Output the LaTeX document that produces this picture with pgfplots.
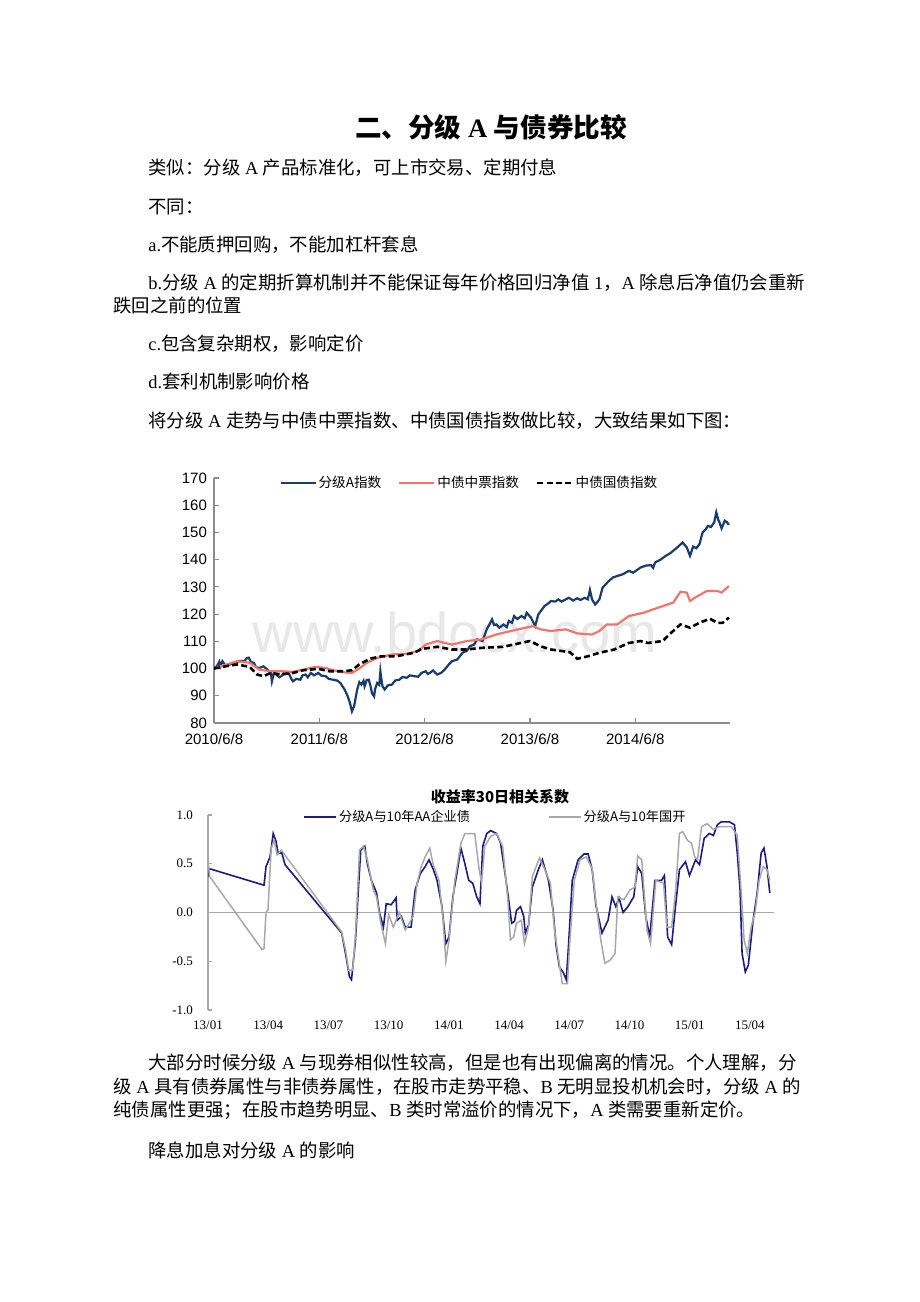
\documentclass[border=0pt]{standalone}
\usepackage{fontspec}
\setmainfont{Liberation Serif}
\setsansfont{Liberation Sans}
\newfontfamily\cjk{Noto Sans CJK SC}
\usepackage{pgfplots}
\pgfplotsset{compat=1.18}
\definecolor{navyA}{RGB}{24,60,108}
\definecolor{salmon}{RGB}{240,118,108}
\definecolor{navyB}{RGB}{28,28,128}
\definecolor{grayB}{RGB}{168,168,168}
\definecolor{axgray}{RGB}{140,140,140}
\newcommand\zh[1]{{\cjk #1}}
\newcommand\body{\fontsize{9.2}{11}\selectfont}

\begin{document}
\begin{tikzpicture}
\path[fill=white] (0,0) rectangle (460pt,651pt);

% page text, coordinates in pixels from the top left
\begin{scope}[x=0.5pt,y=-0.5pt,shift={(0,651pt)},
  every node/.style={anchor=west,inner sep=0pt,font=\body}]
\node[anchor=center,font=\fontsize{13.3}{16}\selectfont\bfseries] at (491,127)
  {\zh{二、分级} A \zh{与债券比较}};
\node at (148,168) {\zh{类似：分级} A \zh{产品标准化，可上市交易、定期付息}};
\node at (148,207) {\zh{不同：}};
\node at (148,245) {a.\zh{不能质押回购，不能加杠杆套息}};
\node at (148,283) {b.\zh{分级} A \zh{的定期折算机制并不能保证每年价格回归净值} 1\zh{，}A \zh{除息后净值仍会重新}};
\node at (113,305) {\zh{跌回之前的位置}};
\node at (148,344) {c.\zh{包含复杂期权，影响定价}};
\node at (148,382) {d.\zh{套利机制影响价格}};
\node at (148,421) {\zh{将分级} A \zh{走势与中债中票指数、中债国债指数做比较，大致结果如下图：}};
\node[anchor=center,text=black!9,font=\sffamily\fontsize{28}{30}\selectfont] at (455,632) {www.bdocx.com};
\node[anchor=center,font=\cjk\bfseries\fontsize{7.5}{9}\selectfont] at (500,797) {收益率30日相关系数};
\node at (148,1063) {\zh{大部分时候分级} A \zh{与现券相似性较高，但是也有出现偏离的情况。个人理解，分}};
\node at (113,1087) {\zh{级} A \zh{具有债券属性与非债券属性，在股市走势平稳、}B \zh{无明显投机机会时，分级} A \zh{的}};
\node at (113,1110) {\zh{纯债属性更强；在股市趋势明显、}B \zh{类时常溢价的情况下，}A \zh{类需要重新定价。}};
\node at (148,1150) {\zh{降息加息对分级} A \zh{的影响}};
\end{scope}

% chart 1: index levels, x in years since 2010/6/8
\begin{axis}[
  at={(107pt,289.5pt)}, anchor=south west,
  scale only axis, width=258pt, height=122.5pt,
  xmin=0, xmax=4.9, ymin=80, ymax=170,
  axis x line*=bottom, axis y line*=left,
  axis line style={axgray, line width=0.8pt, -},
  tick style={axgray, line width=0.6pt},
  tick align=inside, major tick length=2.5pt,
  xtick={0,1,2,3,4},
  xticklabels={2010/6/8,2011/6/8,2012/6/8,2013/6/8,2014/6/8},
  ytick={80,90,...,170},
  ticklabel style={font=\sffamily\fontsize{7.5}{9}\selectfont},
  xticklabel style={yshift=-2pt},
  /pgf/number format/assume math mode=true,
  legend columns=-1,
  legend style={at={(0.126,0.98)}, anchor=west, draw=none, fill=none,
    inner sep=0pt, nodes={inner sep=1pt},
    font=\cjk\fontsize{6.8}{8}\selectfont,
    /tikz/every even column/.append style={column sep=7.5pt}},
  legend image code/.code={\draw[#1] (0pt,0pt) -- (17.5pt,0pt);},
]
\addplot[navyA, line width=1.1pt] coordinates {
(0,100) (0.03,101) (0.05,102.5) (0.06,100.8) (0.08,102.7) (0.11,101) (0.15,101.5)
(0.20,102.2) (0.25,102.8) (0.29,102.7) (0.31,103.8) (0.33,104) (0.35,102.5) (0.38,102)
(0.40,100.5) (0.43,100.2) (0.47,100.8) (0.50,99.9) (0.54,98.4) (0.55,95.3) (0.57,98.5)
(0.59,97.8) (0.62,96.8) (0.64,97.2) (0.67,98.8) (0.71,98.4) (0.73,96.5) (0.75,95.3)
(0.78,96.2) (0.82,95.9) (0.84,97.5) (0.87,97.8) (0.89,96.8) (0.92,98.4) (0.95,97.5)
(0.99,98.4) (1.02,97.4) (1.06,97.2) (1.09,96.2) (1.13,95.9) (1.17,95.6) (1.20,94.7)
(1.24,92.3) (1.27,89.8) (1.29,87.5) (1.31,84.3) (1.33,86.1) (1.36,92.3) (1.38,95)
(1.40,94.1) (1.42,95.5) (1.43,93.5) (1.45,95.8) (1.47,95.9) (1.49,93) (1.50,91)
(1.52,89.8) (1.53,92.5) (1.55,94.7) (1.57,94) (1.58,99) (1.59,96) (1.60,93.5)
(1.62,92.3) (1.65,93.8) (1.69,94.1) (1.72,95.6) (1.76,95.9) (1.79,96.9) (1.83,96.6)
(1.86,97.5) (1.90,97.2) (1.94,97.0) (1.97,98.4) (2.01,99) (2.03,98) (2.05,98.4)
(2.08,99.3) (2.12,97.8) (2.16,98.5) (2.19,99.6) (2.23,101.5) (2.26,102.7) (2.31,103.3)
(2.36,105.8) (2.40,106.5) (2.43,108.2) (2.47,108.8) (2.50,110.7) (2.55,110.1) (2.59,114.4)
(2.62,116.5) (2.64,118.1) (2.66,116) (2.68,116.2) (2.71,115) (2.75,116.2) (2.78,115.2)
(2.80,117.5) (2.83,116.8) (2.85,119.3) (2.88,118.2) (2.92,119.3) (2.95,118.5) (2.97,120.5)
(3.01,118.7) (3.05,115.6) (3.08,119.9) (3.11,121.5) (3.14,123) (3.17,123.8) (3.20,124.8)
(3.24,124.6) (3.27,125.4) (3.30,124.6) (3.34,125.4) (3.37,126) (3.41,125) (3.45,125.8)
(3.48,125.2) (3.52,126) (3.55,125.4) (3.57,128.9) (3.59,125.4) (3.62,123.5) (3.66,125.4)
(3.69,129.7) (3.75,132.2) (3.79,133.5) (3.83,134) (3.88,134.6) (3.94,135.9) (3.98,135.2)
(4.05,137.1) (4.10,137.8) (4.15,138) (4.17,137) (4.19,139) (4.24,140) (4.29,141.4)
(4.33,142.3) (4.40,144.5) (4.45,146.3) (4.49,144.5) (4.52,141.4) (4.55,144.8) (4.58,144.2)
(4.61,145.7) (4.64,150) (4.67,151.2) (4.69,152.4) (4.72,152) (4.75,153.7) (4.77,157.4)
(4.79,154.5) (4.80,153.7) (4.82,151.5) (4.83,152.4) (4.85,154.3) (4.87,153.8) (4.89,152.8)};
\addplot[salmon, line width=1.1pt] coordinates {
(0,100) (0.12,101.5) (0.22,102.7) (0.34,102.1) (0.43,99.6) (0.54,99) (0.64,99)
(0.75,98.8) (0.85,99.6) (0.96,100.6) (1.06,100.2) (1.13,99.4) (1.24,98.6) (1.31,98.4)
(1.38,100) (1.45,102.1) (1.55,103.9) (1.69,105.2) (1.83,105.4) (1.94,106.4) (2.01,108.8)
(2.12,110.1) (2.26,108.8) (2.40,110.1) (2.54,110.7) (2.68,112.5) (2.82,113.8) (2.96,115)
(3.03,115.6) (3.10,114.4) (3.20,113.8) (3.34,114.4) (3.45,112.9) (3.59,112.5) (3.66,113.8)
(3.73,116.2) (3.83,116.2) (3.94,119.3) (4.08,120.5) (4.22,122.4) (4.36,124.2) (4.43,128.2)
(4.49,127.9) (4.52,124.8) (4.57,126.1) (4.68,128.5) (4.78,128.5) (4.82,127.9) (4.89,130.3)};
\addplot[black, line width=1.3pt, dash pattern=on 3pt off 1.6pt] coordinates {
(0,100) (0.12,100.9) (0.22,101.5) (0.34,100.6) (0.41,97.8) (0.47,97.2) (0.54,98.4)
(0.64,97.8) (0.75,98.4) (0.85,99.4) (0.99,99.9) (1.10,99) (1.24,99) (1.31,99.4)
(1.38,101.5) (1.48,103.6) (1.59,104.5) (1.73,104.5) (1.90,105.8) (1.97,107.2) (2.12,108)
(2.26,107) (2.40,107) (2.54,107.6) (2.75,108) (2.89,109.2) (3.00,110.1) (3.10,108.2)
(3.20,107) (3.38,106) (3.45,103.6) (3.55,104.5) (3.66,105.8) (3.80,107) (3.94,109.4)
(4.05,110.1) (4.12,109.4) (4.26,110.1) (4.36,113.8) (4.43,116.2) (4.52,115) (4.61,116.8)
(4.71,118.3) (4.78,116.8) (4.83,116.8) (4.89,118.7)};
\legend{分级A指数,中债中票指数,中债国债指数}
\end{axis}

% chart 2: 30-day correlation, x in months since 2013/01
\begin{axis}[
  at={(104pt,146pt)}, anchor=south west,
  scale only axis, width=283pt, height=97.5pt,
  xmin=0, xmax=28.2, ymin=-1, ymax=1,
  axis x line*=bottom, axis y line*=left,
  axis line style={-},
  x axis line style={draw=none},
  y axis line style={grayB, line width=0.7pt},
  xtick={0,3,...,27},
  xticklabels={13/01,13/04,13/07,13/10,14/01,14/04,14/07,14/10,15/01,15/04},
  xtick style={draw=none},
  ytick={-1,-0.5,0,0.5,1}, yticklabels={-1.0,-0.5,0.0,0.5,1.0},
  ytick style={grayB, line width=0.6pt}, tick align=inside, major tick length=2pt,
  ticklabel style={font=\fontsize{6.5}{8}\selectfont},
  yticklabel style={xshift=-4pt},
  xticklabel style={yshift=-2pt},
  extra y ticks={0}, extra y tick labels={},
  extra y tick style={grid=major, major grid style={grayB, line width=0.6pt}, tick style={draw=none}},
  legend columns=-1,
  legend style={at={(0.168,0.99)}, anchor=west, draw=none, fill=none,
    inner sep=0pt, nodes={inner sep=1pt},
    font=\cjk\fontsize{6.6}{8}\selectfont,
    /tikz/every even column/.append style={column sep=38pt}},
  legend image code/.code={\draw[#1] (0pt,0pt) -- (16pt,0pt);},
]
\addplot[navyB, line width=0.8pt] coordinates {
(0,0.37) (0.06,0.45) (2.79,0.28) (2.89,0.47) (3.09,0.57) (3.25,0.81) (3.39,0.73)
(3.49,0.61) (3.68,0.61) (3.84,0.49) (6.66,-0.21) (6.85,-0.42) (7.05,-0.66) (7.15,-0.69)
(7.35,-0.28) (7.49,0.23) (7.61,0.64) (7.81,0.68) (7.94,0.50) (8.14,0.33) (8.40,0.20)
(8.54,0.0) (8.74,-0.15) (8.88,0.09) (9.13,0.08) (9.37,0.15) (9.43,-0.08) (9.63,-0.04)
(9.83,-0.15) (10.12,-0.15) (10.32,0.23) (10.58,0.40) (10.82,0.47) (11.01,0.54) (11.21,0.45)
(11.41,0.33) (11.65,0.07) (11.85,-0.32) (12.01,-0.25) (12.20,0.16) (12.40,0.40) (12.60,0.66)
(12.80,0.50) (12.99,0.33) (13.19,0.30) (13.39,0.16) (13.55,0.09) (13.69,0.68) (13.89,0.81)
(14.08,0.84) (14.38,0.81) (14.58,0.71) (14.82,0.37) (14.98,0.13) (15.13,-0.11) (15.27,-0.09)
(15.37,0.02) (15.57,0.06) (15.73,-0.04) (15.81,-0.21) (15.97,-0.13) (16.16,0.26) (16.46,0.44)
(16.66,0.54) (16.96,0.33) (17.19,0.03) (17.35,-0.35) (17.51,-0.56) (17.71,-0.62) (17.85,-0.69)
(17.95,-0.38) (18.15,0.33) (18.44,0.54) (18.74,0.60) (18.94,0.60) (19.14,0.44) (19.33,0.07)
(19.63,-0.21) (19.93,-0.08) (20.13,0.16) (20.32,0.06) (20.48,0.15) (20.68,0.0) (20.92,0.06)
(21.21,0.16) (21.41,0.47) (21.61,0.40) (21.81,-0.04) (22.01,-0.25) (22.27,0.33) (22.60,0.33)
(22.74,0.38) (22.90,-0.25) (23.10,-0.33) (23.26,0.0) (23.49,0.44) (23.79,0.52) (23.99,0.38)
(24.29,0.54) (24.49,0.49) (24.72,0.76) (24.98,0.81) (25.18,0.79) (25.38,0.90) (25.57,0.93)
(25.97,0.93) (26.23,0.90) (26.37,0.61) (26.51,0.23) (26.61,-0.42) (26.77,-0.61) (26.92,-0.54)
(27.16,-0.08) (27.36,0.20) (27.56,0.61) (27.70,0.66) (27.85,0.47) (27.99,0.20)};
\addplot[grayB, line width=0.75pt] coordinates {
(0,0.54) (0.08,0.37) (2.69,-0.38) (2.79,-0.37) (2.89,0.0) (2.99,0.03) (3.15,0.66)
(3.29,0.74) (3.45,0.59) (3.65,0.64) (6.66,-0.20) (6.85,-0.38) (7.01,-0.59) (7.21,-0.59)
(7.35,-0.21) (7.55,0.64) (7.75,0.68) (7.94,0.54) (8.24,0.23) (8.40,0.16) (8.60,-0.10)
(8.84,-0.32) (9.00,-0.02) (9.23,-0.15) (9.53,0.0) (9.83,-0.18) (10.22,-0.04) (10.42,0.30)
(10.62,0.47) (10.82,0.57) (11.05,0.66) (11.21,0.50) (11.51,0.33) (11.71,-0.07) (11.85,-0.50)
(12.01,-0.28) (12.30,0.33) (12.60,0.71) (12.80,0.81) (13.29,0.81) (13.49,0.47) (13.63,0.30)
(13.79,0.68) (14.08,0.78) (14.38,0.81) (14.68,0.68) (14.94,0.13) (15.07,-0.28) (15.23,-0.25)
(15.37,-0.11) (15.61,-0.08) (15.77,-0.32) (15.97,-0.15) (16.16,0.37) (16.52,0.56) (16.72,0.47)
(17.06,0.30) (17.25,-0.15) (17.45,-0.45) (17.65,-0.73) (17.91,-0.73) (18.01,-0.35) (18.25,0.33)
(18.54,0.54) (18.84,0.57) (19.14,0.45) (19.33,0.10) (19.57,-0.28) (19.77,-0.52) (20.03,-0.49)
(20.28,-0.42) (20.42,0.16) (20.72,0.13) (21.02,0.23) (21.27,0.26) (21.41,0.58) (21.61,0.54)
(21.87,-0.18) (22.05,-0.32) (22.31,0.33) (22.70,0.30) (22.86,-0.15) (23.10,-0.15) (23.30,0.23)
(23.49,0.81) (23.65,0.83) (23.89,0.74) (24.09,0.71) (24.25,0.57) (24.39,0.54) (24.59,0.88)
(24.88,0.91) (25.18,0.85) (25.48,0.88) (26.07,0.88) (26.37,0.79) (26.57,0.20) (26.71,-0.28)
(26.87,-0.42) (27.06,-0.15) (27.26,0.0) (27.46,0.33) (27.66,0.47) (27.85,0.44) (27.99,0.33)};
\legend{分级A与10年AA企业债,分级A与10年国开}
\end{axis}
\end{tikzpicture}
\end{document}
